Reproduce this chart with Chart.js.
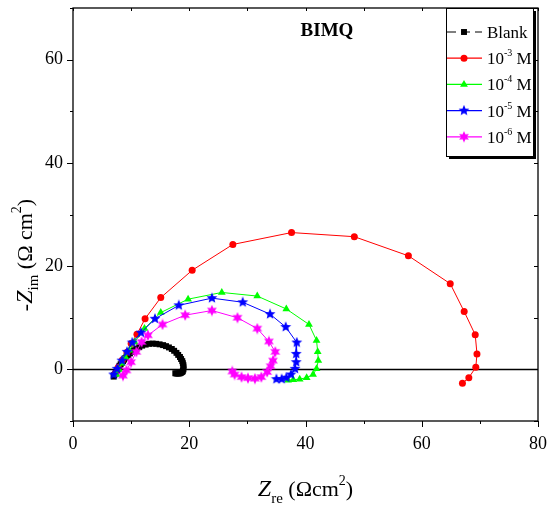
<!DOCTYPE html>
<html>
<head>
<meta charset="utf-8">
<script src="https://cdn.jsdelivr.net/npm/chart.js@4.4.0/dist/chart.umd.min.js"></script>
<style>
html, body { margin: 0; padding: 0; background: #fff; }
#wrap { width: 548px; height: 508px; }
</style>
</head>
<body>
<div id="wrap"><canvas id="nyquist" width="548" height="508"></canvas></div>
<script>
// Nyquist data (Z_re, -Z_im in ohm cm2)
var blankRe = [7.0, 7.1, 7.3, 7.4, 7.6, 7.7, 7.9, 8.0, 8.2, 8.4, 8.6, 8.8, 9.0, 9.2, 9.5, 9.8, 10.1, 10.5, 10.9, 11.4, 11.9, 12.5, 13.1, 13.7, 14.3, 14.9, 15.5, 16.0, 16.5, 17.0, 17.4, 17.8, 18.1, 18.4, 18.6, 18.8, 18.9, 19.0, 19.0, 19.0, 18.9, 18.8, 18.6, 18.4, 18.2, 18.0, 17.8, 17.6];
var blankIm = [-1.4, -1.1, -0.8, -0.5, -0.2, 0.1, 0.4, 0.7, 1.0, 1.3, 1.6, 1.9, 2.2, 2.5, 2.8, 3.1, 3.4, 3.7, 4.0, 4.3, 4.6, 4.8, 4.95, 5.0, 4.95, 4.85, 4.7, 4.5, 4.25, 3.95, 3.6, 3.2, 2.8, 2.4, 2.0, 1.6, 1.2, 0.8, 0.4, 0.0, -0.3, -0.5, -0.65, -0.75, -0.8, -0.8, -0.8, -0.75];

var m3Re = [7.3, 7.8, 8.5, 9.3, 10.0, 11.0, 12.4, 15.1, 20.5, 27.5, 37.6, 48.4, 57.7, 64.9, 67.3, 69.2, 69.5, 69.3, 68.1, 67.0];
var m3Im = [-0.8, 0.4, 1.8, 3.3, 5.0, 6.8, 9.8, 13.9, 19.2, 24.2, 26.5, 25.7, 22.0, 16.6, 11.2, 6.7, 3.0, 0.4, -1.6, -2.7];

var m4Re = [7.5, 7.9, 8.4, 9.0, 9.7, 10.6, 12.3, 15.1, 19.8, 25.6, 31.7, 36.7, 40.6, 41.9, 42.1, 42.2, 41.9, 41.3, 40.2, 39.0, 37.9, 37.0];
var m4Im = [-1.0, 0.0, 1.2, 2.4, 3.7, 5.3, 7.9, 11.0, 13.6, 14.9, 14.2, 11.7, 8.7, 5.6, 3.4, 1.7, 0.1, -1.0, -1.6, -1.9, -2.0, -2.1];

var m5Re = [7.0, 7.6, 8.4, 9.3, 10.2, 11.7, 14.1, 18.2, 23.9, 29.2, 33.9, 36.6, 38.5, 38.4, 38.4, 38.2, 37.5, 36.7, 35.9, 35.0];
var m5Im = [-1.0, 0.1, 1.7, 3.4, 5.2, 7.1, 9.8, 12.4, 13.8, 13.0, 10.7, 8.2, 5.2, 3.0, 1.4, 0.1, -1.0, -1.6, -1.9, -1.9];

var m6Re = [8.6, 9.2, 10.0, 10.9, 11.8, 12.9, 15.4, 19.3, 23.9, 28.3, 31.7, 33.7, 34.8, 34.4, 34.0, 33.4, 32.4, 31.3, 30.1, 29.0, 27.8, 27.4];
var m6Im = [-1.2, -0.2, 1.4, 3.4, 5.3, 6.6, 8.7, 10.5, 11.4, 10.0, 7.9, 5.4, 3.4, 1.7, 0.6, -0.5, -1.5, -1.8, -1.7, -1.5, -1.0, -0.4];

var seriesLabels = ['Blank', '10^-3 M', '10^-4 M', '10^-5 M', '10^-6 M'];
var plotTitle = 'BIMQ';
var xMin = 0, xMax = 80, yMin = -10, yMax = 70;

var SERIF = '"Liberation Serif", "Times New Roman", serif';

function toPoints(re, im) {
    return re.map(function (v, i) { return { x: v, y: im[i] }; });
}

// filled star used as point marker
function makeStar(color, spikes, size, inner) {
    var c = document.createElement('canvas');
    c.width = size; c.height = size;
    var g = c.getContext('2d');
    var cx = size / 2, r = size / 2 - 0.3, ri = r * inner;
    g.beginPath();
    for (var k = 0; k < spikes * 2; k++) {
        var rr = (k % 2) ? ri : r;
        var a = -Math.PI / 2 + k * Math.PI / spikes;
        g.lineTo(cx + rr * Math.cos(a), cx + rr * Math.sin(a));
    }
    g.closePath();
    g.fillStyle = color;
    g.fill();
    return c;
}

var blueStar = makeStar('#0000ff', 5, 12, 0.45);
var pinkStar = makeStar('#ff00ff', 6, 12, 0.5);

function series(label, re, im, color, style, radius, order, dash) {
    return {
        label: label,
        data: toPoints(re, im),
        showLine: true,
        borderColor: color,
        backgroundColor: color,
        borderWidth: 1,
        borderDash: dash || [],
        pointStyle: style,
        pointRadius: radius,
        pointHoverRadius: radius,
        pointBorderWidth: 0,
        pointBackgroundColor: color,
        order: order
    };
}

var datasets = [
    {
        label: 'zero',
        data: [{ x: xMin, y: 0 }, { x: xMax, y: 0 }],
        showLine: true,
        borderColor: '#000',
        borderWidth: 1.5,
        pointRadius: 0,
        order: 10
    },
    series(seriesLabels[0], blankRe, blankIm, '#000000', 'rect', 4.2, 6, [4, 3]),
    series(seriesLabels[1], m3Re, m3Im, '#ff0000', 'circle', 3.5, 5),
    series(seriesLabels[2], m4Re, m4Im, '#00ff00', 'triangle', 4.5, 4),
    series(seriesLabels[3], m5Re, m5Im, '#0000ff', blueStar, 6, 3),
    series(seriesLabels[4], m6Re, m6Im, '#ff00ff', pinkStar, 6, 2)
];

// draws a run of text pieces (sub/superscripts) centred on cx
function drawRich(ctx, parts, cx, baseY) {
    var w = 0;
    parts.forEach(function (p) { ctx.font = p.f; w += ctx.measureText(p.t).width; });
    var x = cx - w / 2;
    ctx.textAlign = 'left';
    ctx.textBaseline = 'alphabetic';
    parts.forEach(function (p) {
        ctx.font = p.f;
        ctx.fillText(p.t, x, baseY + (p.dy || 0));
        x += ctx.measureText(p.t).width;
    });
}

function line(ctx, x1, y1, x2, y2) {
    ctx.beginPath();
    ctx.moveTo(x1, y1);
    ctx.lineTo(x2, y2);
    ctx.stroke();
}

var framePlugin = {
    id: 'framePlugin',
    afterDraw: function (chart) {
        var ctx = chart.ctx, a = chart.chartArea;
        var xs = chart.scales.x, ys = chart.scales.y;
        ctx.save();
        ctx.strokeStyle = '#000';
        ctx.fillStyle = '#000';
        ctx.lineWidth = 1.3;
        ctx.strokeRect(a.left, a.top, a.right - a.left, a.bottom - a.top);
        ctx.lineWidth = 1;
        for (var v = xMin; v <= xMax; v += 10) {
            var px = Math.round(xs.getPixelForValue(v)) + 0.5;
            var len = (v % 20 === 0) ? 6 : 3;
            line(ctx, px, a.bottom, px, a.bottom + len);
            line(ctx, px, a.top, px, a.top + 3);
        }
        for (var w = yMin; w <= yMax; w += 10) {
            var py = Math.round(ys.getPixelForValue(w)) + 0.5;
            var ln = (w % 20 === 0) ? 6 : 3;
            line(ctx, a.left - ln, py, a.left, py);
            line(ctx, a.right - 4, py, a.right, py);
        }

        // axis titles
        ctx.fillStyle = '#000';
        drawRich(ctx, [
            { t: 'Z', f: 'italic 24px ' + SERIF },
            { t: 're', f: '15px ' + SERIF, dy: 7 },
            { t: ' (\u03A9cm', f: '22px ' + SERIF },
            { t: '2', f: '14px ' + SERIF, dy: -11 },
            { t: ')', f: '22px ' + SERIF }
        ], (a.left + a.right) / 2, 496);

        ctx.save();
        ctx.translate(32, 255);
        ctx.rotate(-Math.PI / 2);
        drawRich(ctx, [
            { t: '-', f: '22px ' + SERIF },
            { t: 'Z', f: 'italic 24px ' + SERIF },
            { t: 'im', f: '15px ' + SERIF, dy: 6 },
            { t: ' (\u03A9 cm', f: '22px ' + SERIF },
            { t: '2', f: '14px ' + SERIF, dy: -11 },
            { t: ')', f: '22px ' + SERIF }
        ], 0, 0);
        ctx.restore();

        // plot title
        ctx.font = 'bold 19px ' + SERIF;
        ctx.textAlign = 'center';
        ctx.textBaseline = 'alphabetic';
        ctx.fillText(plotTitle, 327, 36);

        // legend box with drop shadow
        var bx = 446, by = 8, bw = 87, bh = 148;
        ctx.fillStyle = '#000';
        ctx.fillRect(bx + 3, by + 3, bw, bh);
        ctx.fillStyle = '#fff';
        ctx.fillRect(bx, by, bw, bh);
        ctx.strokeStyle = '#000';
        ctx.lineWidth = 1;
        ctx.strokeRect(bx + 0.5, by + 0.5, bw, bh);

        var items = chart.data.datasets.slice(1);
        items.forEach(function (ds, i) {
            var cy = 32 + i * 26.2;
            ctx.save();
            ctx.strokeStyle = ds.borderColor;
            ctx.lineWidth = 1.2;
            ctx.setLineDash(ds.borderDash && ds.borderDash.length ? [9, 5] : []);
            line(ctx, bx + 1, cy, bx + 36, cy);
            ctx.restore();
            var mx = bx + 18;
            if (ds.pointStyle instanceof HTMLCanvasElement) {
                ctx.drawImage(ds.pointStyle, mx - 6, cy - 6, 12, 12);
            } else {
                ctx.fillStyle = ds.backgroundColor;
                ctx.strokeStyle = ds.backgroundColor;
                Chart.helpers.drawPoint(ctx, {
                    pointStyle: ds.pointStyle, radius: ds.pointRadius, rotation: 0, borderWidth: 0
                }, mx, cy);
            }
            ctx.fillStyle = '#000';
            var m = /^(\d+)\^(\S+)(.*)$/.exec(ds.label);
            var tx = bx + 41, base = cy + 6;
            ctx.textAlign = 'left';
            ctx.textBaseline = 'alphabetic';
            if (m) {
                ctx.font = '17px ' + SERIF;
                ctx.fillText(m[1], tx, base);
                tx += ctx.measureText(m[1]).width;
                ctx.font = '10px ' + SERIF;
                ctx.fillText(m[2], tx, base - 8);
                tx += ctx.measureText(m[2]).width;
                ctx.font = '17px ' + SERIF;
                ctx.fillText(m[3], tx, base);
            } else {
                ctx.font = '17px ' + SERIF;
                ctx.fillText(ds.label, tx, base);
            }
        });
        ctx.restore();
    }
};

var ctx = document.getElementById('nyquist');
var nyquist = new Chart(ctx, {
    type: 'scatter',
    data: { datasets: datasets },
    options: {
        responsive: false,
        animation: false,
        layout: { padding: { top: 8, right: 10, left: 0, bottom: 0 } },
        plugins: { legend: { display: false }, tooltip: { enabled: false } },
        scales: {
            x: {
                type: 'linear', min: xMin, max: xMax,
                grid: { display: false, drawTicks: false },
                border: { display: false },
                ticks: {
                    stepSize: 10, autoSkip: false, maxRotation: 0, padding: 12,
                    color: '#000', font: { family: SERIF, size: 18 },
                    callback: function (v) { return v % 20 === 0 ? v : ''; }
                },
                afterFit: function (s) {
                    s.height = 87;
                    s.paddingLeft = 0; s.paddingRight = 0;
                }
            },
            y: {
                type: 'linear', min: yMin, max: yMax,
                grid: { display: false, drawTicks: false },
                border: { display: false },
                ticks: {
                    stepSize: 10, autoSkip: false, padding: 10,
                    color: '#000', font: { family: SERIF, size: 18 },
                    callback: function (v) { return (v % 20 === 0 && v >= 0) ? v : ''; }
                },
                afterFit: function (s) {
                    s.width = 73;
                    s.paddingTop = 0; s.paddingBottom = 0;
                }
            }
        }
    },
    plugins: [framePlugin]
});
</script>
</body>
</html>
